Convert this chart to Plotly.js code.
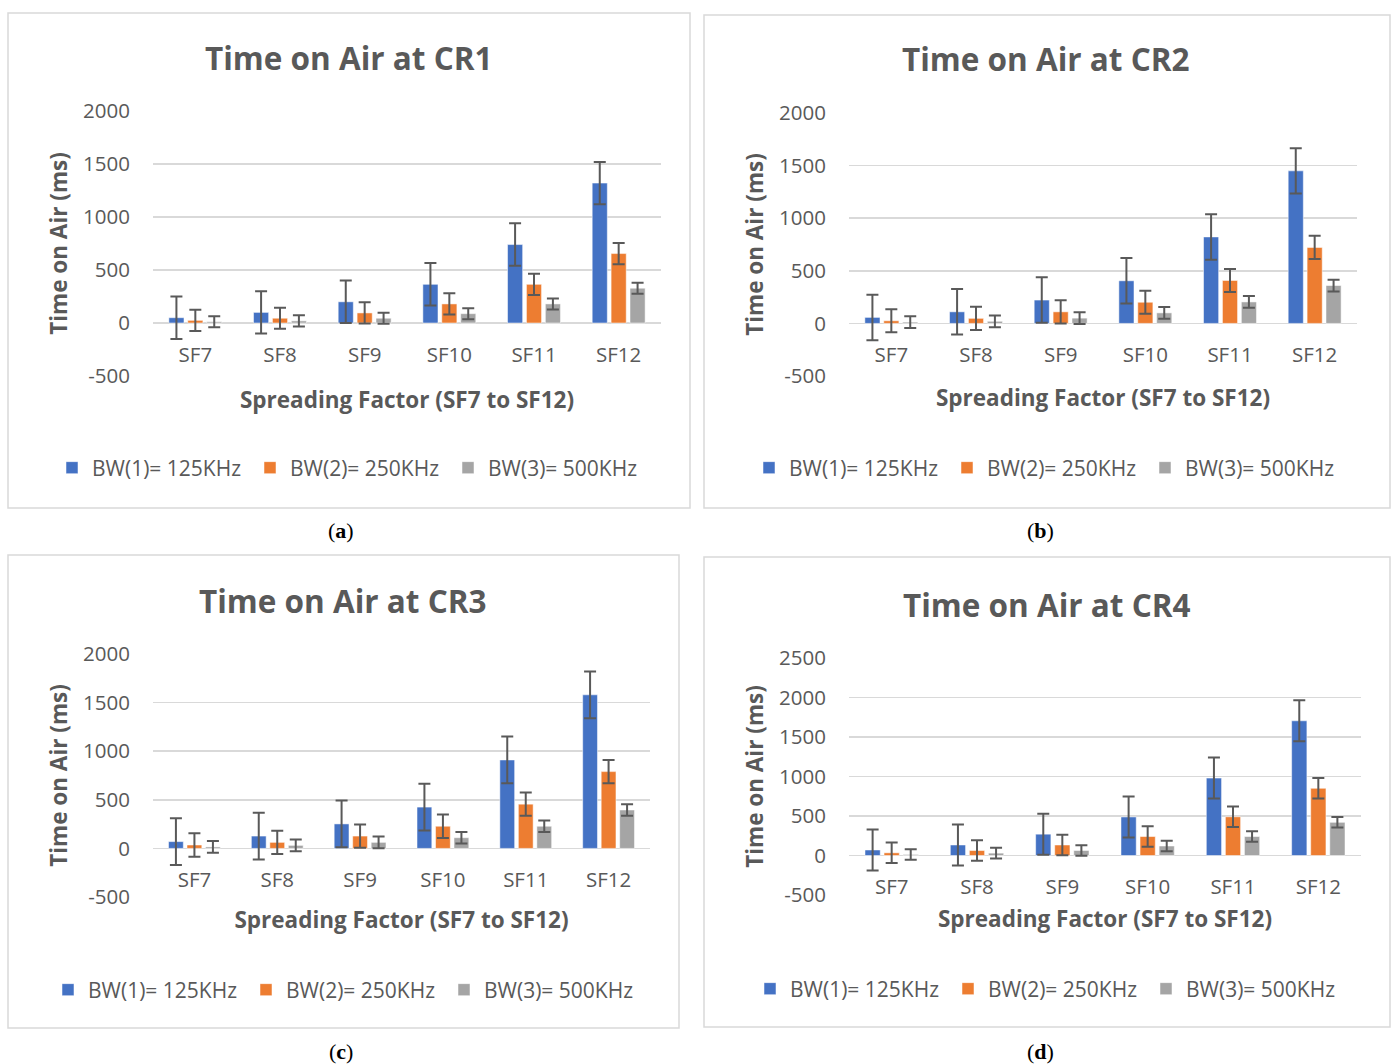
<!DOCTYPE html>
<html>
<head>
<meta charset="utf-8">
<script src="https://cdn.plot.ly/plotly-3.0.1.min.js"></script>
<style>
html,body{margin:0;padding:0;background:#fff;}
#chart{width:1392px;height:1064px;}
</style>
</head>
<body>
<div id="chart"></div>
<script>
// ---------------- DATA ----------------
const categories = ['SF7', 'SF8', 'SF9', 'SF10', 'SF11', 'SF12'];
const seriesNames = ['BW(1)= 125KHz', 'BW(2)= 250KHz', 'BW(3)= 500KHz'];
const chartTitles = ['Time on Air at CR1', 'Time on Air at CR2', 'Time on Air at CR3', 'Time on Air at CR4'];
const captions = ['a', 'b', 'c', 'd'];
const xTitle = 'Spreading Factor (SF7 to SF12)';
const yTitle = 'Time on Air (ms)';

// y tick labels
const yTickVals2000 = [-500, 0, 500, 1000, 1500, 2000];
const yTickText2000 = ['-500', '0', '500', '1000', '1500', '2000'];
const yTickVals2500 = [-500, 0, 500, 1000, 1500, 2000, 2500];
const yTickText2500 = ['-500', '0', '500', '1000', '1500', '2000', '2500'];

// CR1
const cr1_bw125 = [50, 100, 200, 365, 740, 1320];
const cr1_bw250 = [25, 45, 95, 180, 365, 655];
const cr1_bw500 = [12, 20, 45, 88, 180, 328];
const cr1_err125 = [200, 200, 200, 200, 200, 200];
const cr1_err250 = [100, 100, 100, 100, 100, 100];
const cr1_err500 = [52, 52, 52, 52, 52, 52];
// CR2
const cr2_bw125 = [57, 110, 222, 405, 822, 1450];
const cr2_bw250 = [25, 48, 110, 201, 408, 722];
const cr2_bw500 = [12, 20, 50, 100, 204, 360];
const cr2_err125 = [216, 216, 216, 216, 216, 216];
const cr2_err250 = [110, 110, 110, 110, 110, 110];
const cr2_err500 = [56, 56, 56, 56, 56, 56];
// CR3
const cr3_bw125 = [70, 127, 252, 425, 910, 1580];
const cr3_bw250 = [35, 62, 127, 228, 455, 790];
const cr3_bw500 = [15, 31, 62, 110, 228, 395];
const cr3_err125 = [240, 240, 240, 240, 240, 240];
const cr3_err250 = [120, 120, 120, 120, 120, 120];
const cr3_err500 = [60, 60, 60, 60, 60, 60];
// CR4
const cr4_bw125 = [70, 133, 270, 488, 980, 1705];
const cr4_bw250 = [34, 63, 133, 240, 490, 850];
const cr4_bw500 = [13, 30, 63, 120, 240, 420];
const cr4_err125 = [260, 260, 260, 260, 260, 260];
const cr4_err250 = [130, 130, 130, 130, 130, 130];
const cr4_err500 = [67, 67, 67, 67, 67, 67];

const yRanges = [[-500, 2000], [-500, 2000], [-500, 2000], [-500, 2500]];
const yTicks = [
  [yTickVals2000, yTickText2000],
  [yTickVals2000, yTickText2000],
  [yTickVals2000, yTickText2000],
  [yTickVals2500, yTickText2500]
];

const panelValues = [
  [cr1_bw125, cr1_bw250, cr1_bw500],
  [cr2_bw125, cr2_bw250, cr2_bw500],
  [cr3_bw125, cr3_bw250, cr3_bw500],
  [cr4_bw125, cr4_bw250, cr4_bw500]
];
const panelErrors = [
  [cr1_err125, cr1_err250, cr1_err500],
  [cr2_err125, cr2_err250, cr2_err500],
  [cr3_err125, cr3_err250, cr3_err500],
  [cr4_err125, cr4_err250, cr4_err500]
];

// ---------------- STYLE / LAYOUT GEOMETRY (pixels) ----------------
const W = 1392, H = 1064;
const colors = ['#4472C4', '#ED7D31', '#A5A5A5'];
const textGray = '#595959';
const gridGray = '#D9D9D9';
const FONT = 'Open Sans, sans-serif';

const geom = [
  {plot: [153, 661, 111, 376], box: [8, 690, 13, 508], title: [349, 57], leg: [52, 468], cap: [341, 530], xts: 25},
  {plot: [849, 1357, 113, 376], box: [704, 1390, 15, 508], title: [1046, 59], leg: [749, 468], cap: [1040, 530], xts: 23},
  {plot: [153, 650, 654, 897], box: [8, 679, 555, 1028], title: [343, 600], leg: [48, 990], cap: [341, 1051], xts: 20},
  {plot: [849, 1361, 658, 895], box: [704, 1390, 557, 1027], title: [1047, 604], leg: [750, 989], cap: [1040, 1051], xts: 12}
];
const px = x => x / W;
const py = y => 1 - y / H;

const traces = [];
const layout = {
  width: W, height: H,
  margin: {l: 0, r: 0, t: 0, b: 0},
  paper_bgcolor: '#ffffff',
  plot_bgcolor: 'rgba(0,0,0,0)',
  barmode: 'group',
  bargap: 0.33,
  bargroupgap: 0.2,
  font: {family: FONT, color: textGray},
  shapes: [],
  annotations: [],
  showlegend: true
};

geom.forEach((g, i) => {
  const n = i === 0 ? '' : String(i + 1);
  const xa = 'xaxis' + n, ya = 'yaxis' + n;
  const legName = 'legend' + n;
  const yr = yRanges[i];
  const yDom = [py(g.plot[3]), py(g.plot[2])];
  const zeroPos = yDom[0] + (0 - yr[0]) / (yr[1] - yr[0]) * (yDom[1] - yDom[0]);

  for (let s = 0; s < 3; s++) {
    traces.push({
      type: 'bar',
      x: categories,
      y: panelValues[i][s],
      name: seriesNames[s],
      xaxis: 'x' + n,
      yaxis: 'y' + n,
      legend: legName,
      marker: {color: colors[s], line: {color: 'rgba(255,255,255,0.5)', width: 1}},
      error_y: {type: 'data', array: panelErrors[i][s], visible: true, color: '#595959', thickness: 2, width: 6},
      hoverinfo: 'y'
    });
  }

  layout[xa] = {
    domain: [px(g.plot[0]), px(g.plot[1])],
    anchor: 'free',
    position: zeroPos,
    type: 'category',
    showgrid: false,
    showline: false,
    zeroline: false,
    ticks: '',
    ticklabelstandoff: 17,
    tickfont: {family: FONT, size: 20.5, color: textGray},
    title: {text: xTitle, standoff: g.xts, font: {family: FONT, size: 22.5, color: textGray, weight: 'bold'}}
  };
  layout[ya] = {
    domain: yDom,
    anchor: 'x' + n,
    range: yr,
    tickmode: 'array',
    tickvals: yTicks[i][0],
    ticktext: yTicks[i][1],
    showgrid: true,
    gridcolor: gridGray,
    gridwidth: 1.5,
    zeroline: true,
    zerolinecolor: gridGray,
    zerolinewidth: 1.5,
    showline: false,
    ticks: '',
    ticklabelstandoff: 22,
    tickfont: {family: FONT, size: 20.5, color: textGray},
    title: {text: yTitle, standoff: 9, font: {family: FONT, size: 22.5, color: textGray, weight: 'bold'}}
  };
  layout[legName] = {
    orientation: 'h',
    x: px(g.leg[0]), xanchor: 'left',
    y: py(g.leg[1]), yanchor: 'middle',
    entrywidth: 153, entrywidthmode: 'pixels',
    font: {family: FONT, size: 21, color: textGray},
    bgcolor: 'rgba(0,0,0,0)',
    itemclick: false, itemdoubleclick: false,
    traceorder: 'normal'
  };
  layout.shapes.push({
    type: 'rect', xref: 'paper', yref: 'paper',
    x0: px(g.box[0]), x1: px(g.box[1]), y0: py(g.box[3]), y1: py(g.box[2]),
    line: {color: '#D9D9D9', width: 1.5}, fillcolor: 'rgba(0,0,0,0)', layer: 'below'
  });
  layout.annotations.push({
    text: chartTitles[i], xref: 'paper', yref: 'paper',
    x: px(g.title[0]), y: py(g.title[1]), xanchor: 'center', yanchor: 'middle',
    showarrow: false, font: {family: FONT, size: 31.5, color: textGray, weight: 'bold'}
  });
  layout.annotations.push({
    text: '(<b>' + captions[i] + '</b>)', xref: 'paper', yref: 'paper',
    x: px(g.cap[0]), y: py(g.cap[1]), xanchor: 'center', yanchor: 'middle',
    showarrow: false, font: {family: 'Liberation Serif, serif', size: 22, color: '#000000'}
  });
});

Plotly.newPlot('chart', traces, layout, {displayModeBar: false, staticPlot: true});
</script>
</body>
</html>
